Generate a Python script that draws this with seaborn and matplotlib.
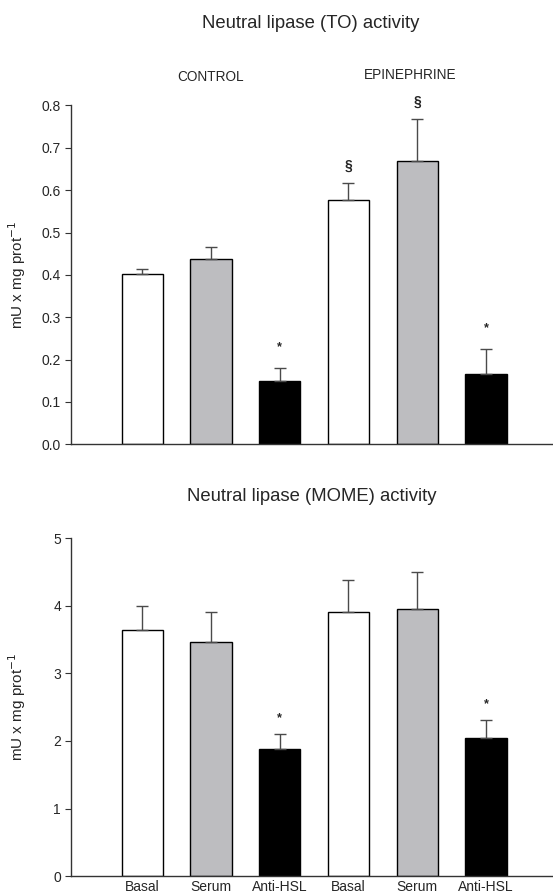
import matplotlib
matplotlib.use("Agg")
import matplotlib.pyplot as plt
import seaborn as sns
import pandas as pd
import numpy as np

sns.set_style("white")
plt.rcParams['font.family'] = ['Liberation Sans', 'DejaVu Sans']

keys = ["C_Basal", "C_Serum", "C_AntiHSL", "E_Basal", "E_Serum", "E_AntiHSL"]
tick_labels = ["Basal", "Serum", "Anti-HSL", "Basal", "Serum", "Anti-HSL"]
to_values = [0.402, 0.437, 0.150, 0.578, 0.668, 0.166]
to_errors = [0.013, 0.028, 0.031, 0.039, 0.100, 0.059]
to_marks = ["", "", "*", "§", "§", "*"]
mome_values = [3.64, 3.46, 1.88, 3.91, 3.945, 2.04]
mome_errors = [0.35, 0.45, 0.22, 0.47, 0.55, 0.27]
mome_marks = ["", "", "*", "", "", "*"]
colors = ["#ffffff", "#bcbdc1", "#000000", "#ffffff", "#bcbdc1", "#000000"]

fig = plt.figure(figsize=(5.53, 8.94), dpi=100)
ax1 = fig.add_axes([0.128, 0.503, 0.87, 0.379])
ax2 = fig.add_axes([0.128, 0.020, 0.87, 0.378])

spine_col = "#333333"

def draw(ax, values, errors, marks, ylim, yticks, fmt, star_off, sec_off, show_x):
    df = pd.DataFrame({"key": keys, "value": values})
    sns.barplot(data=df, x="key", y="value", hue="key", order=keys, hue_order=keys,
                palette=colors, edgecolor="black", linewidth=1.0, width=0.6,
                legend=False, ax=ax, errorbar=None)
    xs = np.arange(len(keys))
    ax.errorbar(xs, values, yerr=[np.zeros(len(values)), errors], fmt="none",
                ecolor="#4a4a4a", elinewidth=1.0, capsize=4, capthick=1.0, zorder=1)
    for x, v, e, m in zip(xs, values, errors, marks):
        if m == "*":
            ax.text(x, v + e + star_off, m, ha="center", va="bottom",
                    fontsize=9, fontweight="bold")
        elif m:
            ax.text(x, v + e + sec_off, m, ha="center", va="bottom",
                    fontsize=10, fontweight="bold")
    ax.set_xlim(-1.04, 5.96)
    ax.set_ylim(*ylim)
    ax.set_yticks(yticks)
    ax.set_yticklabels([fmt.format(t) for t in yticks], fontsize=10)
    ax.set_xlabel("")
    ax.set_ylabel("mU x mg prot$^{-1}$", fontsize=11)
    ax.yaxis.set_label_coords(-0.089, 0.5)
    for s in ["top", "right"]:
        ax.spines[s].set_visible(False)
    for s in ["left", "bottom"]:
        ax.spines[s].set_color(spine_col)
        ax.spines[s].set_linewidth(1.0)
    ax.tick_params(axis="y", direction="out", length=4, width=0.8, color=spine_col, left=True, pad=3)
    if show_x:
        ax.set_xticks(xs)
        ax.set_xticklabels(tick_labels, fontsize=10)
        ax.tick_params(axis="x", length=0, pad=3)
    else:
        ax.set_xticks([])

draw(ax1, to_values, to_errors, to_marks, (0, 0.8),
     [0.0, 0.1, 0.2, 0.3, 0.4, 0.5, 0.6, 0.7, 0.8], "{:.1f}", 0.035, 0.025, False)
draw(ax2, mome_values, mome_errors, mome_marks, (0, 5),
     [0, 1, 2, 3, 4, 5], "{:.0f}", 0.15, 0.15, True)

fig.text(0.562, 0.974, "Neutral lipase (TO) activity", ha="center", va="center", fontsize=13.3)
fig.text(0.38, 0.914, "CONTROL", ha="center", va="center", fontsize=9.8)
fig.text(0.742, 0.916, "EPINEPHRINE", ha="center", va="center", fontsize=9.8)
fig.text(0.564, 0.445, "Neutral lipase (MOME) activity", ha="center", va="center", fontsize=13.3)

fig.savefig("out.png", dpi=100)
